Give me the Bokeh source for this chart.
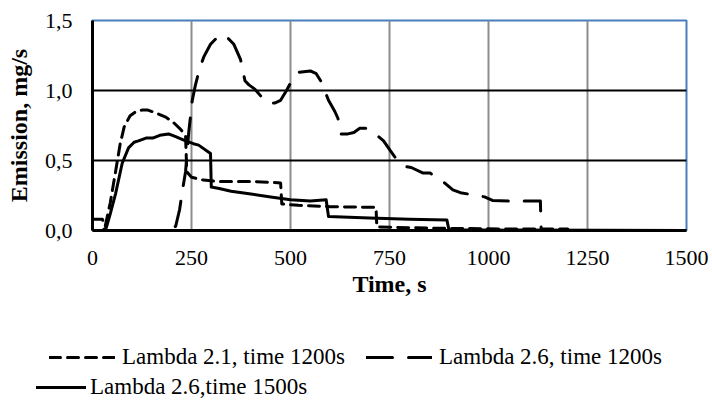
import numpy as np
from bokeh.plotting import figure
from bokeh.models import FixedTicker, Legend, LegendItem, Range1d
from bokeh.layouts import column
from bokeh.embed import file_html
from bokeh.resources import INLINE

# ---- data ----
t_l21 = [0, 25, 32, 45, 60, 70, 80, 95, 110, 125, 140, 160, 185, 205, 220, 235, 238, 250, 280, 320, 400, 475, 478, 520, 600, 716, 718, 800, 900, 1000, 1100, 1200]
v_l21 = [0.08, 0.08, 0.03, 0.2, 0.45, 0.62, 0.74, 0.82, 0.85, 0.86, 0.86, 0.84, 0.81, 0.77, 0.73, 0.68, 0.42, 0.38, 0.36, 0.35, 0.35, 0.34, 0.19, 0.18, 0.17, 0.165, 0.025, 0.02, 0.015, 0.012, 0.01, 0.01]

t_l26a = [0, 195, 210, 220, 228, 235, 243, 252, 260, 270, 281, 298, 315, 327, 340, 357, 374, 385, 395, 410, 425, 441, 460, 475, 490, 505, 520, 550, 565, 578, 596, 612, 620, 626, 645, 660, 675, 694, 710, 735, 752, 770, 785, 805, 835, 853, 870, 887, 910, 929, 950, 971, 990, 1010, 1050, 1070, 1090, 1131, 1133, 1200]
v_l26a = [0.0, 0.0, 0.03, 0.15, 0.3, 0.42, 0.7, 0.93, 1.04, 1.15, 1.24, 1.33, 1.38, 1.40, 1.38, 1.33, 1.22, 1.07, 1.04, 1.01, 0.96, 0.91, 0.91, 0.93, 1.0, 1.08, 1.13, 1.14, 1.12, 1.06, 0.93, 0.85, 0.80, 0.69, 0.69, 0.70, 0.73, 0.73, 0.70, 0.64, 0.57, 0.50, 0.46, 0.45, 0.41, 0.41, 0.37, 0.345, 0.29, 0.27, 0.26, 0.25, 0.24, 0.215, 0.21, 0.205, 0.21, 0.21, 0.0, 0.0]

t_l26b = [0, 25, 35, 45, 58, 75, 91, 105, 116, 135, 152, 170, 192, 210, 235, 255, 268, 298, 300, 320, 350, 400, 450, 500, 550, 590, 596, 700, 800, 895, 900, 1000, 1500]
v_l26b = [0.0, 0.0, 0.02, 0.12, 0.26, 0.48, 0.59, 0.63, 0.64, 0.66, 0.66, 0.68, 0.69, 0.67, 0.64, 0.62, 0.61, 0.55, 0.31, 0.30, 0.28, 0.26, 0.24, 0.22, 0.21, 0.22, 0.10, 0.09, 0.08, 0.075, 0.005, 0.003, 0.0]

x_ticks = [0, 250, 500, 750, 1000, 1250, 1500]
y_ticks = [0.0, 0.5, 1.0, 1.5]
y_tick_labels = ["0,0", "0,5", "1,0", "1,5"]

labels = ["Lambda 2.1, time 1200s", "Lambda 2.6, time 1200s", "Lambda 2.6,time 1500s"]

FONT = "Liberation Serif"
DASH_SHORT = "11 7"
DASH_LONG = "26 16"

p = figure(width=712, height=310, output_backend="svg", toolbar_location=None,
           x_range=Range1d(0, 1500), y_range=Range1d(0, 1.5),
           min_border_left=92, min_border_right=26, min_border_top=20, min_border_bottom=80)
p.frame_align = False
p.background_fill_color = "white"
p.border_fill_color = "white"
p.outline_line_color = "#4a7ebb"
p.outline_line_width = 2

# axes
p.xaxis.ticker = FixedTicker(ticks=x_ticks)
p.yaxis.ticker = FixedTicker(ticks=y_ticks)
p.yaxis.major_label_overrides = {t: l for t, l in zip(y_ticks, y_tick_labels)}
for ax in (p.xaxis[0], p.yaxis[0]):
    ax.major_tick_out = 0
    ax.major_tick_in = 0
    ax.minor_tick_out = 0
    ax.minor_tick_in = 0
    ax.axis_line_color = "black"
    ax.major_label_text_font = FONT
    ax.major_label_text_font_size = "22px"
    ax.major_label_text_color = "black"
    ax.axis_label_text_font = FONT
    ax.axis_label_text_font_size = "24px"
    ax.axis_label_text_font_style = "bold"
    ax.axis_label_text_color = "black"
p.xaxis.axis_line_width = 3
p.yaxis.axis_line_width = 3
p.xaxis.axis_label = "Time, s"
p.yaxis.axis_label = "Emission, mg/s"
p.xaxis.major_label_standoff = 20
p.xaxis.axis_label_standoff = 3
p.yaxis.major_label_standoff = 20
p.yaxis.axis_label_standoff = 10

# grids
p.xgrid.ticker = FixedTicker(ticks=x_ticks[1:-1])
p.ygrid.ticker = FixedTicker(ticks=y_ticks[1:-1])
p.xgrid.grid_line_color = "#8c8c8c"
p.xgrid.grid_line_width = 2
p.ygrid.grid_line_color = "black"
p.ygrid.grid_line_width = 2

line_kw = dict(line_color="black", line_width=3, line_cap="round", line_join="round")
p.line(t_l21, v_l21, line_dash=DASH_SHORT, **line_kw)
p.line(t_l26a, v_l26a, line_dash=DASH_LONG, **line_kw)
p.line(t_l26b, v_l26b, **line_kw)

# ---- legend strip (separate figure so nothing is clipped) ----
lg = figure(width=712, height=103, output_backend="svg", toolbar_location=None,
            x_axis_type=None, y_axis_type=None,
            x_range=Range1d(0, 1), y_range=Range1d(0, 1),
            min_border=0)
lg.frame_align = False
lg.outline_line_color = None
lg.grid.visible = False
lg.background_fill_color = "white"
lg.border_fill_color = "white"

nan = [np.nan]
g1 = lg.line(nan, nan, line_dash=DASH_SHORT, **line_kw)
g2 = lg.line(nan, nan, line_dash=DASH_LONG, **line_kw)
g3 = lg.line(nan, nan, **line_kw)

common = dict(glyph_height=20, padding=0, margin=0,
              border_line_alpha=0, background_fill_alpha=0,
              label_text_font=FONT, label_text_font_size="23px",
              label_text_color="black")

lg.add_layout(Legend(items=[LegendItem(label=labels[0], renderers=[g1])],
                     glyph_width=66, label_standoff=7, location=(49, 43), **common), "center")
lg.add_layout(Legend(items=[LegendItem(label=labels[1], renderers=[g2])],
                     glyph_width=66, label_standoff=7, location=(366, 43), **common), "center")
lg.add_layout(Legend(items=[LegendItem(label=labels[2], renderers=[g3])],
                     glyph_width=50, label_standoff=4, location=(36, 13), **common), "center")

layout = column(p, lg, spacing=0)
open("out.html", "w").write(file_html(layout, INLINE))
